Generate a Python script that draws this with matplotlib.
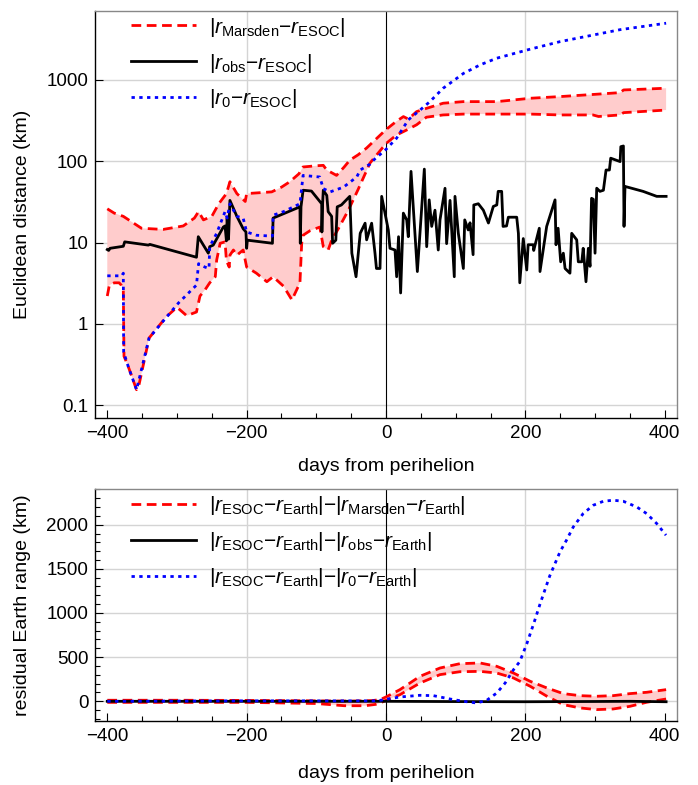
import numpy as np
import matplotlib
matplotlib.use("Agg")
import matplotlib.pyplot as plt
from matplotlib.ticker import FixedLocator, FixedFormatter, MultipleLocator, NullLocator

plt.rcParams['font.family'] = ['Liberation Sans', 'DejaVu Sans']
plt.rcParams['mathtext.fontset'] = 'custom'
plt.rcParams['mathtext.rm'] = 'Liberation Sans'
plt.rcParams['mathtext.it'] = 'Liberation Sans:italic'
plt.rcParams['mathtext.bf'] = 'Liberation Sans:bold'

# ---------------- top panel data ----------------
marsden_hi_days = [-400, -390, -377, -351, -320, -291, -275, -269, -262, -250, -240, -229, -224, -214,
                   -202, -200, -164, -150, -138, -125, -119, -100, -90, -85, -71, -60, -52, -40, -28,
                   -15, 0, 15, 25, 32, 44, 58, 82, 111, 159, 183, 207, 250, 300, 336, 341, 370, 402]
marsden_hi_vals = [26, 23, 21, 15, 14.5, 16, 20, 24, 19, 21, 30, 40, 56, 40,
                   32, 40, 42, 48, 56, 70, 85, 88, 89, 78, 67, 85, 103, 120, 145,
                   185, 245, 310, 354, 330, 408, 447, 517, 541, 541, 567, 595, 624, 665, 698, 753, 770, 791]

marsden_lo_days = [-400, -397, -390, -383, -380, -377, -376, -370, -358, -355, -340, -315, -300, -286,
                   -272, -267, -260, -253, -245, -243, -238, -231, -229, -225, -224, -219, -214, -205,
                   -200, -186, -171, -162, -147, -135, -123.5, -121, -119, -109, -95, -90, -83, -78,
                   -68, -54, -40, -23, 0, 15, 30, 44, 58, 82, 111, 207, 250, 297, 305, 336, 341, 402]
marsden_lo_vals = [2.2, 3.0, 3.2, 3.2, 3.0, 2.6, 0.4, 0.3, 0.155, 0.17, 0.67, 1.23, 1.6, 1.26,
                   1.4, 2.2, 2.6, 3.2, 3.8, 6.1, 9.8, 10.2, 6.0, 5.0, 7.0, 8.1, 7.0, 8.1,
                   5.0, 4.2, 3.3, 3.8, 2.9, 1.97, 3.2, 9.8, 12.3, 14, 15.5, 8.9, 8.1, 10.7,
                   15, 25, 45, 95, 165, 210, 243, 281, 348, 371, 380, 380, 371, 371, 355, 371, 396, 426]

r0_days = [-400, -379, -377, -376.5, -370, -358, -340, -324, -298, -272, -269, -260, -254, -253,
           -243, -231, -228, -224, -214, -205, -200, -186, -163, -162, -147, -123.5, -119, -95,
           -90, -80, -61, -42, -37, -23, -18, 0, 15, 32, 49, 63, 82, 97, 111, 135, 159, 207,
           250, 336, 402]
r0_vals = [3.9, 3.9, 4.2, 0.45, 0.3, 0.155, 0.67, 0.98, 1.8, 3.0, 5.5, 5.0, 4.8, 8.9,
           13, 24, 20, 30, 21, 20, 13.5, 12.3, 12, 21.7, 24, 30, 67, 64,
           46, 42, 48, 64, 78, 92, 103, 140, 191, 323, 427, 541, 790, 980, 1200, 1530, 1850, 2390,
           2960, 4150, 4980]

obs_days = [-400, -398, -396, -377, -375, -341, -339, -272, -269.4, -255, -253, -248, -233.5, -231,
            -229, -228, -226, -224, -214, -205, -201, -200, -199, -163, -162, -123.5, -123, -122,
            -119, -107, -92.3, -92, -91, -90, -85, -83, -78, -76.6, -72, -70, -64, -52, -49, -43,
            -37, -30, -27.8, -20.6, -15.8, -13.7, -8.6, -6.2, 3.3, 5.7, 12.9, 15.3, 18, 21, 24.9,
            29.7, 32, 35.9, 45, 55, 58.4, 62, 65.6, 70.3, 75, 77.5, 84.7, 87, 91.9, 98, 99, 103.8,
            111, 113, 118, 120.6, 125, 126, 132.5, 139.7, 147, 154, 159, 161, 166, 168, 173, 175.6,
            187.6, 190, 192, 197, 202, 204, 211.5, 212, 220, 221, 230.6, 242.6, 244, 247, 250.7,
            254.5, 257, 264, 266.5, 273.7, 276, 281, 283, 287, 290.4, 292.8, 295, 297.6, 300,
            302.4, 307, 312, 315.8, 320.6, 322.5, 336, 337, 340.7, 341.6, 343, 369, 388.5, 402]
obs_vals = [8.2, 8.0, 8.5, 9.0, 10.2, 9.3, 9.5, 6.6, 11.8, 7.4, 8.9, 9.3, 15.5, 16,
            10.5, 20, 11, 33, 21, 14.8, 13.5, 8.5, 10.7, 9.8, 20, 27.5, 9.8, 27.5,
            44, 43, 30, 13.5, 30, 44, 38, 24, 21, 9.8, 10.7, 27.5, 29, 37, 7.4, 3.8,
            13, 17.3, 10.8, 17.3, 7.4, 4.8, 4.8, 37, 14.3, 8.5, 8.1, 3.8, 11.8, 2.4, 23,
            19, 11.8, 75, 4.4, 80, 8.9, 33.5, 15.8, 25, 8.1, 19, 46.5, 9.7, 33, 3.8, 37, 13,
            4.8, 19, 14.3, 17.5, 7.1, 29, 30, 25, 17.4, 27.8, 29, 42.6, 42.6, 15.8, 16, 20.5,
            20.5, 13, 3.2, 11.2, 4.6, 9.4, 9.4, 8, 15, 4.4, 15.8, 33.5, 9.4, 15, 5.8,
            7.4, 4.8, 4.2, 13, 10.8, 5.8, 5.8, 8.5, 3.3, 8.5, 5.1, 35, 34, 7.4,
            46.6, 42.6, 44, 78, 78, 109, 99, 151, 154, 15.8, 49, 42.6, 37, 37]

# ---------------- bottom panel data ----------------
res_m_hi_days = [-400, -300, -200, -100, -50, -20, -8.6, 0, 20, 48.8, 77.5, 106, 135, 159, 183, 207,
                 231, 254.5, 278.5, 302, 326, 350, 374, 402]
res_m_hi_vals = [12, 12, 10, 5, 2, 8, 19, 49, 132, 283, 377, 426, 434, 396, 320, 226,
                 151, 87, 64, 57, 64, 87, 102, 132]
res_m_lo_days = [-400, -300, -200, -100, -60, -30, -15, -8.6, 0, 20, 48.8, 77.5, 106, 135, 159, 183,
                 207, 231, 254.5, 278.5, 302, 326, 350, 374, 402]
res_m_lo_vals = [-12, -12, -12, -25, -50, -50, -35, -19, 11, 75, 207, 302, 335, 339, 320, 264,
                 170, 57, -38, -75, -94, -87, -57, -11, 26]
res_obs_days = [-400, -200, 0, 100, 200, 300, 350, 402]
res_obs_vals = [0, 0, 0, -3, -5, -2, 0, -5]
res_r0_days = [-400, -200, -100, -50, -20, -8.6, 20, 48.8, 68, 92, 111, 130, 144.5, 159, 171, 183,
               192, 202, 212, 221, 235, 249.7, 259, 268.8, 283, 297.5, 311.9, 326, 340.6, 359.8,
               374, 388.5, 401.8]
res_r0_vals = [0, 5, 5, 5, 5, 11, 49, 68, 64, 26, 0, -19, 11, 94, 207, 358,
               450, 650, 880, 1100, 1420, 1692, 1824, 1975, 2126, 2220, 2265, 2277, 2265, 2201,
               2126, 2013, 1881]

x_ticks = [-400, -200, 0, 200, 400]
top_y_ticks = [0.1, 1, 10, 100, 1000]
top_y_labels = ['0.1', '1', '10', '100', '1000']
bot_y_ticks = [0, 500, 1000, 1500, 2000]

top_labels = [r'$|r_{\mathrm{Marsden}}{-}r_{\mathrm{ESOC}}|$',
              r'$|r_{\mathrm{obs}}{-}r_{\mathrm{ESOC}}|$',
              r'$|r_{\mathrm{0}}{-}r_{\mathrm{ESOC}}|$']
bot_labels = [r'$|r_{\mathrm{ESOC}}{-}r_{\mathrm{Earth}}|{-}|r_{\mathrm{Marsden}}{-}r_{\mathrm{Earth}}|$',
              r'$|r_{\mathrm{ESOC}}{-}r_{\mathrm{Earth}}|{-}|r_{\mathrm{obs}}{-}r_{\mathrm{Earth}}|$',
              r'$|r_{\mathrm{ESOC}}{-}r_{\mathrm{Earth}}|{-}|r_{\mathrm{0}}{-}r_{\mathrm{Earth}}|$']

RED = '#ff0000'
BLUE = '#0000ff'
FILL = '#ffcccc'
GRID = '#d4d4d4'
FS = 13.5
LFS = 14
LEGFS = 15

W, H = 698, 785
fig = plt.figure(figsize=(W / 100, H / 100), dpi=100)
ax1 = fig.add_axes([95.3 / W, 1 - 418.3 / H, 581.4 / W, 407.6 / H])
ax2 = fig.add_axes([95.3 / W, 1 - 721 / H, 581.4 / W, 232 / H])

dash = (3.5, 2.0)
dot = (1.2, 1.6)
LW = 2.0


def style(ax):
    ax.set_xlim(-417.2, 417.2)
    for s in ['left', 'bottom']:
        ax.spines[s].set_color('black')
        ax.spines[s].set_linewidth(1.0)
    for s in ['top', 'right']:
        ax.spines[s].set_color('#888888')
        ax.spines[s].set_linewidth(1.0)
    ax.xaxis.set_major_locator(FixedLocator(x_ticks))
    ax.xaxis.set_minor_locator(MultipleLocator(50))
    ax.tick_params(which='both', direction='in', top=False, right=False, labelsize=FS, width=0.8)
    ax.tick_params(which='major', length=6, pad=5)
    ax.tick_params(which='minor', length=3.5)
    ax.axvline(0, color='black', lw=0.8, zorder=1)
    for xv in (-200, 200):
        ax.axvline(xv, color=GRID, lw=1.0, zorder=0)
    ax.yaxis.grid(True, color=GRID, lw=1.0)
    ax.set_axisbelow(True)


def add_legend(ax, handles, labels, y):
    ax.legend(handles, labels, loc='upper left', bbox_to_anchor=(0.062, y),
              frameon=False, fontsize=LEGFS, handlelength=3.1, handletextpad=0.62,
              labelspacing=0.62, borderpad=0, borderaxespad=0)


# top panel
style(ax1)
ax1.set_yscale('log')
ax1.set_ylim(0.069, 7100)
ax1.yaxis.set_major_locator(FixedLocator(top_y_ticks))
ax1.yaxis.set_major_formatter(FixedFormatter(top_y_labels))
ax1.yaxis.set_minor_locator(NullLocator())

poly_x = list(marsden_hi_days) + list(marsden_lo_days)[::-1]
poly_y = list(marsden_hi_vals) + list(marsden_lo_vals)[::-1]
ax1.fill(poly_x, poly_y, color=FILL, lw=0, zorder=1.5)
l1, = ax1.plot(marsden_hi_days, marsden_hi_vals, color=RED, lw=LW, dashes=dash, zorder=3)
ax1.plot(marsden_lo_days, marsden_lo_vals, color=RED, lw=LW, dashes=dash, zorder=3)
l2, = ax1.plot(obs_days, obs_vals, color='black', lw=LW, zorder=4)
l3, = ax1.plot(r0_days, r0_vals, color=BLUE, lw=LW, dashes=dot, zorder=5)
ax1.set_xlabel('days from perihelion', fontsize=LFS)
ax1.xaxis.set_label_coords(0.5, -0.098)
ax1.set_ylabel('Euclidean distance (km)', fontsize=LFS)
ax1.yaxis.set_label_coords(-0.126, 0.5)
ax1.yaxis.label.set_verticalalignment('center')
add_legend(ax1, [l1, l2, l3], top_labels, 0.988)

# bottom panel
style(ax2)
ax2.set_ylim(-223, 2404)
ax2.yaxis.set_major_locator(FixedLocator(bot_y_ticks))
ax2.yaxis.set_minor_locator(MultipleLocator(100))
poly_x2 = list(res_m_hi_days) + list(res_m_lo_days)[::-1]
poly_y2 = list(res_m_hi_vals) + list(res_m_lo_vals)[::-1]
ax2.fill(poly_x2, poly_y2, color=FILL, lw=0, zorder=1.5)
m1, = ax2.plot(res_m_hi_days, res_m_hi_vals, color=RED, lw=LW, dashes=dash, zorder=3)
ax2.plot(res_m_lo_days, res_m_lo_vals, color=RED, lw=LW, dashes=dash, zorder=3)
m2, = ax2.plot(res_obs_days, res_obs_vals, color='black', lw=LW, zorder=4)
m3, = ax2.plot(res_r0_days, res_r0_vals, color=BLUE, lw=LW, dashes=dot, zorder=5)
ax2.set_xlabel('days from perihelion', fontsize=LFS)
ax2.xaxis.set_label_coords(0.5, -0.19)
ax2.set_ylabel('residual Earth range (km)', fontsize=LFS)
ax2.yaxis.set_label_coords(-0.126, 0.5)
ax2.yaxis.label.set_verticalalignment('center')
add_legend(ax2, [m1, m2, m3], bot_labels, 0.978)

fig.savefig('out.png', dpi=100)
